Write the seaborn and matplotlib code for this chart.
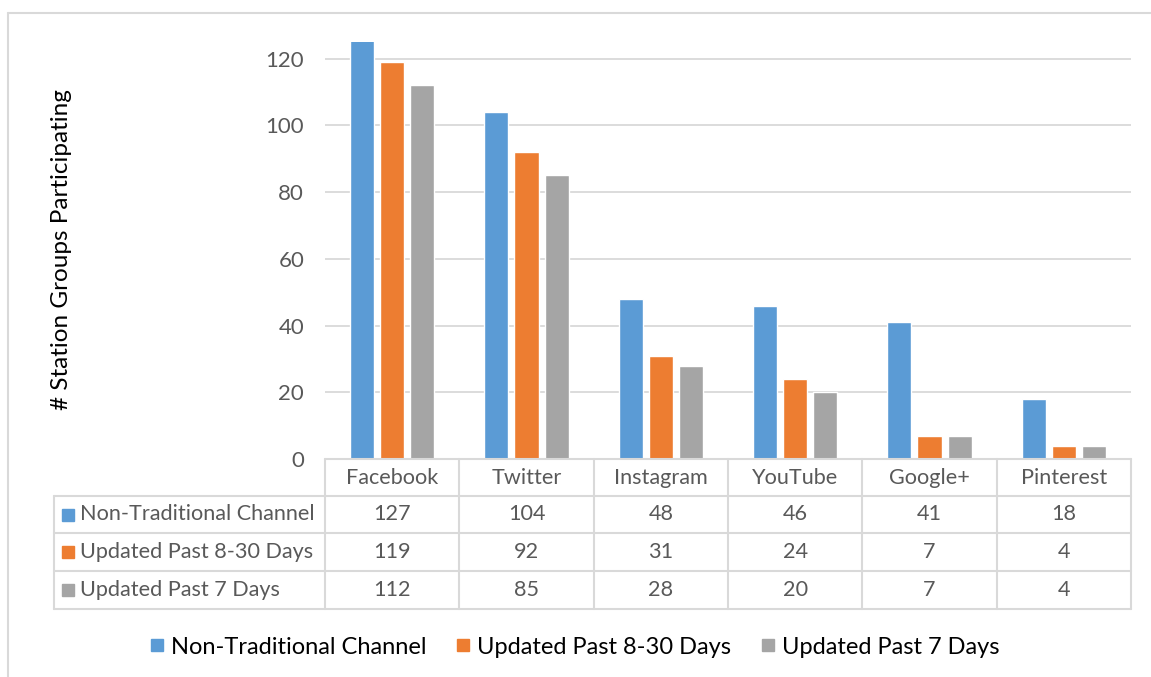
import matplotlib
matplotlib.use("Agg")
import matplotlib.pyplot as plt
from matplotlib.lines import Line2D
from matplotlib.patches import Rectangle
import seaborn as sns
import pandas as pd

categories = ["Facebook", "Twitter", "Instagram", "YouTube", "Google+", "Pinterest"]
series_names = ["Non-Traditional Channel", "Updated Past 8-30 Days", "Updated Past 7 Days"]
non_traditional = [127, 104, 48, 46, 41, 18]
updated_8_30 = [119, 92, 31, 24, 7, 4]
updated_7 = [112, 85, 28, 20, 7, 4]
y_ticks = [0, 20, 40, 60, 80, 100, 120]
y_label = "# Station Groups Participating"

colors = ["#5B9BD5", "#ED7D31", "#A5A5A5"]
text_color = "#595959"
grid_color = "#D9D9D9"

sns.set_theme(style="white")
plt.rcParams["font.family"] = ["Lato", "DejaVu Sans"]

series_values = [non_traditional, updated_8_30, updated_7]
df = pd.DataFrame({
    "category": [c for _ in series_names for c in categories],
    "series": [s for s in series_names for _ in categories],
    "value": [v for vals in series_values for v in vals],
})

W, H = 1151, 677
fig = plt.figure(figsize=(W / 100, H / 100), dpi=100)

def fx(px):
    return px / W

def fy(py):
    return 1 - py / H

ax_left, ax_right, ax_top, ax_bottom = 325, 1131, 42, 459
ax = fig.add_axes([fx(ax_left), fy(ax_bottom), fx(ax_right - ax_left), (ax_bottom - ax_top) / H])

sns.barplot(data=df, x="category", y="value", hue="series", order=categories,
            hue_order=series_names, palette=colors, width=0.672, gap=0.2,
            saturation=1, ax=ax, legend=False)

ax.set_ylim(0, 125)
ax.set_xlim(-0.5, len(categories) - 0.5)
ax.set_yticks(y_ticks)
ax.set_yticklabels([str(t) for t in y_ticks])
ax.yaxis.grid(True, color=grid_color, linewidth=1.3)
ax.set_axisbelow(True)
for s in ax.spines.values():
    s.set_visible(False)
ax.tick_params(axis="y", length=0, pad=15, labelsize=16, labelcolor=text_color)
ax.set_xticks([])
ax.set_xlabel("")
ax.set_ylabel("")

fig.text(fx(62), fy(250), y_label, rotation=90, ha="center", va="center",
         fontsize=17.5, color="#000000")

# Data table
fs = 15.6
row_edges = [459, 496, 533, 571, 609]
col_w = (ax_right - ax_left) / len(categories)
col_edges = [ax_left + i * col_w for i in range(len(categories) + 1)]
tbl_left = 54

def hline(x0, x1, y):
    fig.add_artist(Line2D([fx(x0), fx(x1)], [fy(y), fy(y)], color=grid_color, lw=1.5))

def vline(x, y0, y1):
    fig.add_artist(Line2D([fx(x), fx(x)], [fy(y0), fy(y1)], color=grid_color, lw=1.5))

hline(ax_left, ax_right, row_edges[0])
for y in row_edges[1:]:
    hline(tbl_left, ax_right, y)
for x in col_edges:
    vline(x, row_edges[0], row_edges[-1])
vline(tbl_left, row_edges[1], row_edges[-1])

for i, c in enumerate(categories):
    cx = (col_edges[i] + col_edges[i + 1]) / 2
    fig.text(fx(cx), fy((row_edges[0] + row_edges[1]) / 2), c, ha="center", va="center",
             fontsize=fs, color=text_color)

for r, (name, vals, col) in enumerate(zip(series_names, series_values, colors)):
    y0, y1 = row_edges[r + 1], row_edges[r + 2]
    cy = (y0 + y1) / 2
    sq = 12
    fig.add_artist(Rectangle((fx(62), fy(cy + sq / 2)), fx(sq), sq / H, color=col,
                             transform=fig.transFigure))
    fig.text(fx(80), fy(cy), name, ha="left", va="center", fontsize=fs, color=text_color)
    for i, v in enumerate(vals):
        cx = (col_edges[i] + col_edges[i + 1]) / 2
        fig.text(fx(cx), fy(cy), str(v), ha="center", va="center", fontsize=fs, color=text_color)

# Bottom legend
handles = [Line2D([], [], marker="s", linestyle="", markersize=9, color=c) for c in colors]
fig.legend(handles, series_names, loc="center", bbox_to_anchor=(fx(575), fy(647)),
           ncol=3, frameon=False, fontsize=17, handlelength=0.55,
           handletextpad=0.3, columnspacing=1.3, labelcolor="#000000")

# Outer chart border (partial, as in the reference)
fig.add_artist(Line2D([fx(8), 1], [fy(13), fy(13)], color=grid_color, lw=1.5))
fig.add_artist(Line2D([fx(8), fx(8)], [fy(13), 0], color=grid_color, lw=1.5))

fig.savefig("out.png", dpi=100, facecolor="white")
